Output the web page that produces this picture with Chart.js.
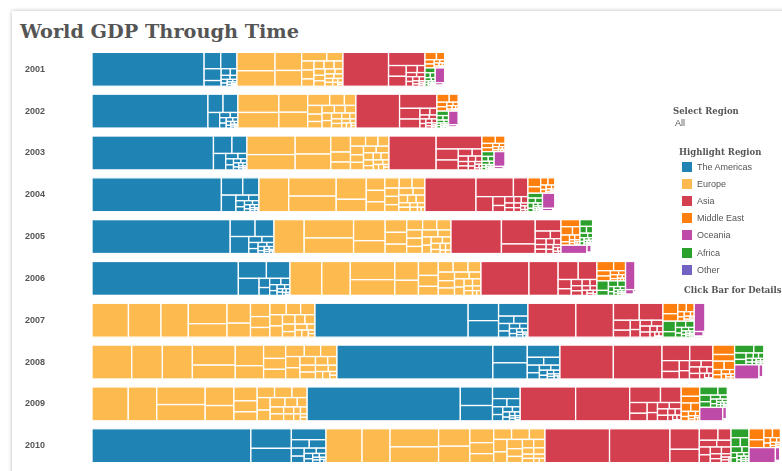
<!DOCTYPE html>
<html>
<head>
<meta charset="utf-8">
<title>World GDP Through Time</title>
<script src="https://cdn.jsdelivr.net/npm/chart.js@4/dist/chart.umd.min.js"></script>
<style>
    html, body { margin: 0; padding: 0; background: #fff; width: 782px; height: 471px; overflow: hidden; }
    .card { position: absolute; left: 12px; top: 11px; width: 800px; height: 490px; background: #fff; box-shadow: 0 0 4px rgba(0,0,0,0.28); }
    h1 { position: absolute; left: 20px; top: 22px; margin: 0; font: bold 19.3px/19px 'DejaVu Serif', Georgia, serif; color: #555; white-space: nowrap; }
    #wrap { position: absolute; left: 12px; top: 43px; width: 770px; height: 429px; }
    .side { position: absolute; white-space: nowrap; color: #555; }
    .head { font: bold 8.5px/10px 'DejaVu Serif', Georgia, serif; }
    .txt { font: 9px/10px 'Liberation Sans', Arial, sans-serif; }
    .sw { display: inline-block; width: 10px; height: 10px; vertical-align: top; margin-right: 5px; }
</style>
</head>
<body>
<div class="card"></div>
<h1>World GDP Through Time</h1>
<div id="wrap"><canvas id="gdpChart"></canvas></div>
<div class="side head" style="left:673px; top:106px;">Select Region</div>
<div class="side txt" style="left:675px; top:118px;">All</div>
<div class="side head" style="left:679px; top:147px;">Highlight Region</div>
<div id="legend"></div>
<div class="side head" style="left:684px; top:285px;">Click Bar for Details</div>
<script>
// World GDP by region, trillions of current US$
const years = ['2001', '2002', '2003', '2004', '2005', '2006', '2007', '2008', '2009', '2010'];
const regions = ['The Americas', 'Europe', 'Asia', 'Middle East', 'Oceania', 'Africa', 'Other'];
const regionColors = ['#1f83b4', '#fdbb4f', '#d43f4f', '#ff7f0e', '#be4ba8', '#2ca02c', '#7262c2'];

const americas   = [13.68, 13.77, 14.62, 15.75, 17.17, 18.68, 20.09, 21.04, 20.10, 22.08];
const europe     = [10.00, 11.13, 13.40, 15.66, 16.70, 18.02, 21.04, 23.11, 20.30, 20.66];
const asia       = [7.74, 7.64, 8.77, 9.72, 10.38, 10.94, 12.74, 14.43, 15.19, 17.55];
const middleEast = [0.85, 1.00, 1.00, 1.15, 1.35, 1.55, 1.56, 2.05, 1.75, 1.65];
const oceania    = [0.45, 0.42, 0.52, 0.60, 0.70, 0.85, 0.97, 1.12, 1.00, 1.28];
const africa     = [0.52, 0.55, 0.62, 0.75, 0.90, 1.15, 1.39, 1.60, 1.57, 1.70];
const other      = [0.03, 0.03, 0.03, 0.03, 0.03, 0.03, 0.03, 0.03, 0.03, 0.03];

// largest economies inside each region
const usa       = [10.58, 10.94, 11.46, 12.21, 13.04, 13.81, 14.45, 14.71, 14.45, 14.99];
const canada    = [0.74, 0.76, 0.90, 1.03, 1.17, 1.32, 1.47, 1.55, 1.37, 1.61];
const brazil    = [0.56, 0.51, 0.56, 0.67, 0.89, 1.11, 1.40, 1.70, 1.67, 2.21];
const mexico    = [0.76, 0.77, 0.73, 0.78, 0.88, 0.98, 1.05, 1.11, 0.90, 1.06];
const argentina = [0.27, 0.10, 0.13, 0.16, 0.20, 0.23, 0.29, 0.36, 0.33, 0.42];
const germany   = [1.95, 2.08, 2.50, 2.81, 2.85, 3.00, 3.44, 3.75, 3.42, 3.40];
const uk        = [1.64, 1.78, 2.05, 2.42, 2.52, 2.69, 3.07, 2.89, 2.38, 2.45];
const france    = [1.34, 1.45, 1.79, 2.06, 2.14, 2.26, 2.58, 2.83, 2.69, 2.64];
const italy     = [1.17, 1.27, 1.57, 1.80, 1.85, 1.94, 2.20, 2.39, 2.19, 2.13];
const spain     = [0.61, 0.69, 0.88, 1.04, 1.13, 1.24, 1.45, 1.63, 1.49, 1.43];
const russia    = [0.31, 0.35, 0.43, 0.59, 0.76, 0.99, 1.30, 1.66, 1.22, 1.52];
const japan     = [4.30, 4.12, 4.45, 4.82, 4.76, 4.53, 4.52, 5.04, 5.23, 5.70];
const china     = [1.34, 1.47, 1.66, 1.96, 2.29, 2.75, 3.55, 4.59, 5.10, 6.09];
const india     = [0.49, 0.51, 0.61, 0.71, 0.82, 0.94, 1.22, 1.20, 1.34, 1.68];
const korea     = [0.53, 0.61, 0.68, 0.76, 0.90, 1.01, 1.12, 1.00, 0.90, 1.09];

// relative size of the smaller countries in each region
const americasRest   = [22, 16, 13, 10, 8, 7, 5, 4, 4, 3, 3, 2, 2, 1];
const europeRest     = [14, 11, 9, 8, 8, 7, 7, 6, 6, 5, 4, 4, 4, 3, 3, 2, 2, 2, 1, 1];
const asiaRest       = [20, 14, 11, 9, 8, 8, 7, 6, 5, 4, 3, 2, 2, 1];
const middleEastMix  = [28, 20, 13, 12, 6, 5, 5, 3, 3, 2, 1.5, 1.5, 1];
const oceaniaMix     = [86, 12, 1, 0.5, 0.5];
const africaMix      = [27, 14, 13, 11, 7, 5, 5, 4, 3, 2.5, 2, 2, 1.5, 1.5, 1.5, 1, 1];
const otherMix       = [1];

const regionTotals = [americas, europe, asia, middleEast, oceania, africa, other];
const regionMajors = [
    [usa, canada, brazil, mexico, argentina],
    [germany, uk, france, italy, spain, russia],
    [japan, china, india, korea],
    [], [], [], []
];
const regionRest = [americasRest, europeRest, asiaRest, middleEastMix, oceaniaMix, africaMix, otherMix];

// country tiles look best a bit wider than square
const TILE_STRETCH = 1.6;

function sum(arr) {
    return arr.reduce((s, v) => s + v, 0);
}

// each year's bar is ordered largest region first
const spans = regionTotals.map(() => []);
years.forEach(function(y, i) {
    const order = regionTotals.map((r, k) => k).sort((a, b) => regionTotals[b][i] - regionTotals[a][i]);
    let acc = 0;
    order.forEach(function(k) {
        spans[k][i] = [acc, acc + regionTotals[k][i]];
        acc += regionTotals[k][i];
    });
});

function countriesFor(k, i) {
    const vals = regionMajors[k].map(a => a[i]);
    const rest = Math.max(regionTotals[k][i] - sum(vals), 0);
    const wsum = sum(regionRest[k]);
    regionRest[k].forEach(w => vals.push(rest * w / wsum));
    return vals;
}

// squarified treemap
function worst(row, side) {
    const s = sum(row.map(r => r.a));
    const len = s / side;
    let m = 0;
    row.forEach(function(r) {
        const o = r.a / len;
        m = Math.max(m, len / o, o / len);
    });
    return m;
}

function layoutRow(row, rect, out) {
    const s = sum(row.map(r => r.a));
    if (rect.w >= rect.h) {
        const cw = s / rect.h;
        let yy = rect.y;
        row.forEach(function(r) {
            const hh = r.a / cw;
            out.push({ i: r.i, x: rect.x, y: yy, w: cw, h: hh });
            yy += hh;
        });
        return { x: rect.x + cw, y: rect.y, w: rect.w - cw, h: rect.h };
    }
    const rh = s / rect.w;
    let xx = rect.x;
    row.forEach(function(r) {
        const ww = r.a / rh;
        out.push({ i: r.i, x: xx, y: rect.y, w: ww, h: rh });
        xx += ww;
    });
    return { x: rect.x, y: rect.y + rh, w: rect.w, h: rect.h - rh };
}

function squarify(values, rect, stretch) {
    const total = sum(values);
    const out = [];
    if (total <= 0 || rect.w <= 0 || rect.h <= 0) return out;
    // lay out in a horizontally squeezed space, then stretch back
    const space = { x: 0, y: 0, w: rect.w / stretch, h: rect.h };
    const items = values.map((v, i) => ({ i: i, a: v * space.w * space.h / total }))
        .filter(it => it.a > 0)
        .sort((a, b) => b.a - a.a);
    let r = space;
    let row = [];
    let k = 0;
    while (k < items.length) {
        const side = Math.min(r.w, r.h);
        const cand = row.concat([items[k]]);
        if (row.length === 0 || worst(cand, side) <= worst(row, side)) {
            row = cand;
            k++;
        } else {
            r = layoutRow(row, r, out);
            row = [];
        }
    }
    if (row.length) layoutRow(row, r, out);
    return out.map(t => ({ i: t.i, x: rect.x + t.x * stretch, y: rect.y + t.y, w: t.w * stretch, h: t.h }));
}

function drawRegion(ctx, k, i, rect) {
    const tiles = squarify(countriesFor(k, i), rect, TILE_STRETCH);
    ctx.fillStyle = regionColors[k];
    ctx.strokeStyle = '#ffffff';
    ctx.lineWidth = 1.3;
    tiles.forEach(function(t) {
        ctx.fillRect(t.x, t.y, t.w, t.h);
        ctx.strokeRect(t.x, t.y, t.w, t.h);
    });
}

const treemapPlugin = {
    id: 'treemapBars',
    afterDatasetsDraw(chart) {
        const ctx = chart.ctx;
        ctx.save();
        years.forEach(function(y, i) {
            const bars = chart.data.datasets.map(function(ds, k) {
                const p = chart.getDatasetMeta(k).data[i].getProps(['x', 'y', 'base', 'height'], true);
                return {
                    k: k,
                    x0: Math.min(p.base, p.x),
                    x1: Math.max(p.base, p.x),
                    top: p.y - p.height / 2,
                    h: p.height,
                    v: regionTotals[k][i]
                };
            }).sort((a, b) => a.x0 - b.x0);

            bars.slice(0, 3).forEach(function(b) {
                drawRegion(ctx, b.k, i, { x: b.x0, y: b.top, w: b.x1 - b.x0, h: b.h });
            });

            // the small regions share the end of the bar
            const tail = bars.slice(3);
            const tx0 = tail[0].x0;
            const tx1 = Math.max.apply(null, tail.map(b => b.x1));
            squarify(tail.map(b => b.v), { x: tx0, y: tail[0].top, w: tx1 - tx0, h: tail[0].h }, 1)
                .forEach(function(r) {
                    drawRegion(ctx, tail[r.i].k, i, r);
                });
        });
        ctx.restore();
    }
};

// legend
const legend = document.getElementById('legend');
regions.forEach(function(name, k) {
    const div = document.createElement('div');
    div.className = 'side txt';
    div.style.left = '682px';
    div.style.top = (162 + k * 17.1) + 'px';
    div.innerHTML = '<span class="sw" style="background:' + regionColors[k] + '"></span>' + name;
    legend.appendChild(div);
});

new Chart(document.getElementById('gdpChart'), {
    type: 'bar',
    data: {
        labels: years,
        datasets: regions.map(function(name, k) {
            return {
                label: name,
                data: spans[k],
                backgroundColor: regionColors[k],
                borderWidth: 0
            };
        })
    },
    options: {
        indexAxis: 'y',
        responsive: true,
        maintainAspectRatio: false,
        animation: false,
        layout: { padding: { top: 2.6, bottom: 4, left: 13, right: 0 } },
        datasets: { bar: { grouped: false, categoryPercentage: 1, barPercentage: 0.81 } },
        plugins: {
            legend: { display: false },
            tooltip: { enabled: false }
        },
        scales: {
            x: { display: false, min: 0, max: 65.1 },
            y: {
                grid: { display: false },
                border: { display: false },
                ticks: {
                    crossAlign: 'far',
                    padding: 0,
                    color: '#555',
                    font: { family: "'Liberation Sans', Arial, sans-serif", size: 9, weight: 'bold' }
                },
                afterFit: function(scale) { scale.width = 67; }
            }
        }
    },
    plugins: [treemapPlugin]
});
</script>
</body>
</html>
